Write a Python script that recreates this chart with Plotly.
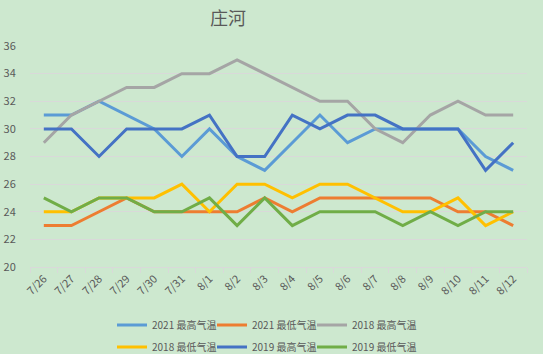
import plotly.graph_objects as go

dates = ["7/26","7/27","7/28","7/29","7/30","7/31","8/1","8/2","8/3","8/4",
         "8/5","8/6","8/7","8/8","8/9","8/10","8/11","8/12"]
high_2021 = [31,31,32,31,30,28,30,28,27,29,31,29,30,30,30,30,28,27]
low_2021  = [23,23,24,25,24,24,24,24,25,24,25,25,25,25,25,24,24,23]
high_2018 = [29,31,32,33,33,34,34,35,34,33,32,32,30,29,31,32,31,31]
low_2018  = [24,24,25,25,25,26,24,26,26,25,26,26,25,24,24,25,23,24]
high_2019 = [30,30,28,30,30,30,31,28,28,31,30,31,31,30,30,30,27,29]
low_2019  = [25,24,25,25,24,24,25,23,25,23,24,24,24,23,24,23,24,24]

names = ["2021 最高气温", "2021 最低气温", "2018 最高气温",
         "2018 最低气温", "2019 最高气温", "2019 最低气温"]
values = [high_2021, low_2021, high_2018, low_2018, high_2019, low_2019]
colors = ["#5B9BD5", "#ED7D31", "#A5A5A5", "#FFC000", "#4472C4", "#70AD47"]

font_family = "Noto Sans CJK SC"
txt = "#595959"
W, H = 543, 354

# legend layout: 3 per row, 2 rows
leg_x = [120, 220, 320]
leg_y = [325, 347]

fig = go.Figure()
legends = {}
for i, (name, vals, color) in enumerate(zip(names, values, colors)):
    key = "legend" if i == 0 else f"legend{i+1}"
    fig.add_trace(go.Scatter(x=dates, y=vals, name=name, mode="lines",
                             line=dict(color=color, width=3), legend=key))
    legends[key] = dict(
        orientation="h", x=(leg_x[i % 3] - 8) / W, xref="container", xanchor="left",
        y=1 - leg_y[i // 3] / H, yref="container", yanchor="middle",
        font=dict(size=10, color=txt, family=font_family),
        bgcolor="rgba(0,0,0,0)", itemwidth=30,
    )

bg = "#CDE8CF"
fig.update_layout(
    width=W, height=H,
    margin=dict(l=30, r=16, t=46, b=87),
    paper_bgcolor=bg, plot_bgcolor=bg,
    font=dict(family=font_family, color=txt, size=11),
    title=dict(text="庄河", x=228/W, xref="container", xanchor="center",
               y=1-19/H, yref="container", yanchor="middle",
               font=dict(size=18, color=txt, family=font_family)),
    xaxis=dict(type="category", range=[-0.5, len(dates)-0.5], showgrid=False,
               showline=True, linecolor="#D9D9D9", automargin=False,
               ticks="outside", tickson="boundaries", ticklen=5, tickcolor="#D9D9D9",
               tickangle=-45, tickfont=dict(size=11, color=txt)),
    yaxis=dict(range=[20, 36], dtick=2, showgrid=True, gridcolor="#D9D9D9",
               gridwidth=1, zeroline=False, showline=False, automargin=False,
               ticks="outside", ticklen=11, tickcolor="rgba(0,0,0,0)",
               tickfont=dict(size=11, color=txt)),
    showlegend=True,
    **legends,
)

fig.write_html("out.html")
